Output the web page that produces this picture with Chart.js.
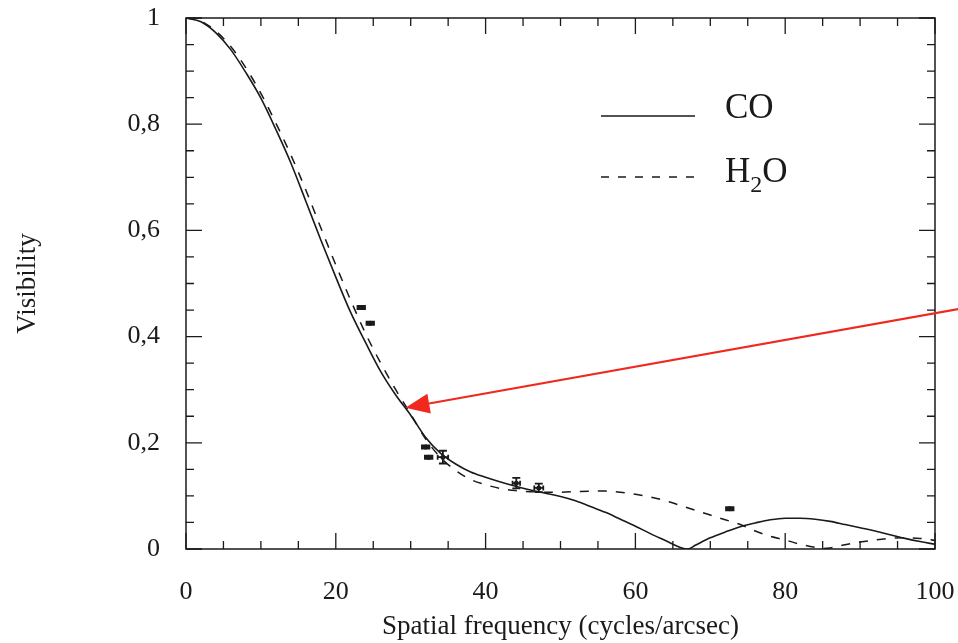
<!DOCTYPE html>
<html>
<head>
<meta charset="utf-8">
<script src="https://cdn.jsdelivr.net/npm/chart.js@4.4.1/dist/chart.umd.min.js"></script>
<style>
  html, body { margin: 0; padding: 0; background: #fff; }
</style>
</head>
<body>
<canvas id="myChart" width="958" height="643"></canvas>
<script>
// Model curves
const freqCO = [0, 2, 4, 6, 8, 10, 12, 14, 16, 18, 20, 22, 24, 26, 28, 30, 32, 34, 36, 38, 40,
    42, 44, 46, 48, 50, 52, 54, 56, 58, 60, 62, 64, 66, 67, 68, 70, 72, 74, 76, 78, 80,
    82, 84, 86, 88, 90, 92, 94, 96, 98, 100];
const visCO = [1.000, 0.993, 0.972, 0.940, 0.897, 0.849, 0.790, 0.727, 0.655, 0.582, 0.512,
    0.445, 0.388, 0.334, 0.290, 0.252, 0.210, 0.180, 0.160, 0.145, 0.135,
    0.126, 0.118, 0.111, 0.105, 0.099, 0.091, 0.080, 0.069, 0.056, 0.043, 0.029, 0.016, 0.003, 0.000,
    0.007, 0.021, 0.032, 0.042, 0.049, 0.055, 0.058, 0.058, 0.056, 0.052, 0.046, 0.040, 0.034,
    0.027, 0.020, 0.014, 0.009];

const freqH2O = [0, 2, 4, 6, 8, 10, 12, 14, 16, 18, 20, 22, 24, 26, 28, 30, 32, 34, 36, 38, 40,
    42, 44, 46, 48, 50, 52, 54, 56, 58, 60, 62, 64, 66, 68, 70, 72, 74, 76, 78, 80,
    82, 84, 85, 86, 88, 90, 92, 94, 96, 98, 100];
const visH2O = [1.000, 0.994, 0.975, 0.946, 0.906, 0.858, 0.802, 0.742, 0.676, 0.605, 0.535,
    0.468, 0.405, 0.350, 0.300, 0.254, 0.207, 0.172, 0.148, 0.131, 0.121,
    0.114, 0.110, 0.108, 0.107, 0.107, 0.108, 0.109, 0.109, 0.107, 0.103, 0.098, 0.091, 0.082,
    0.073, 0.064, 0.055, 0.046, 0.034, 0.024, 0.017, 0.009, 0.003, 0.001, 0.002, 0.008, 0.013,
    0.017, 0.020, 0.021, 0.020, 0.016];

// Measured visibilities with error bars
const obsFreq = [23.4, 24.6, 32.0, 32.4, 34.3, 44.1, 47.1, 72.6];
const obsVis = [0.455, 0.425, 0.192, 0.173, 0.173, 0.124, 0.115, 0.076];
const obsFreqErr = [0.5, 0.5, 0.5, 0.5, 0.7, 0.5, 0.6, 0.5];
const obsVisErr = [0.003, 0.003, 0.003, 0.003, 0.012, 0.010, 0.008, 0.003];

// Axis labels
const xTickLabels = [0, 20, 40, 60, 80, 100];
const yTickLabels = [0, 0.2, 0.4, 0.6, 0.8, 1];

// Legend entries
const legendNames = ['CO', 'H2O'];

// Red arrow annotation (data units)
const arrowFrom = [103.1, 0.452];
const arrowTo = [29.3, 0.266];

const serif = "'Liberation Serif', 'DejaVu Serif', serif";
const ink = '#1a1a1a';

function isLabelled(list, value) {
    return list.some(t => Math.abs(t - value) < 1e-6);
}

function yLabel(value) {
    if (!isLabelled(yTickLabels, value)) return '';
    if (Math.abs(value) < 1e-6) return '0';
    if (Math.abs(value - 1) < 1e-6) return '1';
    return value.toFixed(1).replace('.', ',');
}

// Box frame with inward ticks on all four sides
const frameTicks = {
    id: 'frameTicks',
    afterDraw(chart) {
        const { ctx, chartArea: a, scales } = chart;
        ctx.save();
        ctx.strokeStyle = ink;
        ctx.lineWidth = 1.5;
        ctx.strokeRect(a.left, a.top, a.right - a.left, a.bottom - a.top);
        ctx.lineWidth = 1.3;
        ctx.beginPath();
        scales.x.ticks.forEach(t => {
            const px = scales.x.getPixelForValue(t.value);
            const len = isLabelled(xTickLabels, t.value) ? 16 : 8;
            ctx.moveTo(px, a.bottom); ctx.lineTo(px, a.bottom - len);
            ctx.moveTo(px, a.top); ctx.lineTo(px, a.top + len);
        });
        scales.y.ticks.forEach(t => {
            const py = scales.y.getPixelForValue(t.value);
            const len = isLabelled(yTickLabels, t.value) ? 16 : 8;
            ctx.moveTo(a.left, py); ctx.lineTo(a.left + len, py);
            ctx.moveTo(a.right, py); ctx.lineTo(a.right - len, py);
        });
        ctx.stroke();
        ctx.restore();
    }
};

// Error bars for the measured points
const errorBars = {
    id: 'errorBars',
    afterDatasetsDraw(chart) {
        const { ctx, scales } = chart;
        ctx.save();
        ctx.strokeStyle = ink;
        ctx.lineWidth = 1.8;
        ctx.beginPath();
        obsFreq.forEach((f, i) => {
            const x0 = scales.x.getPixelForValue(f - obsFreqErr[i]);
            const x1 = scales.x.getPixelForValue(f + obsFreqErr[i]);
            const y = scales.y.getPixelForValue(obsVis[i]);
            const y0 = scales.y.getPixelForValue(obsVis[i] - obsVisErr[i]);
            const y1 = scales.y.getPixelForValue(obsVis[i] + obsVisErr[i]);
            const x = scales.x.getPixelForValue(f);
            ctx.moveTo(x0, y); ctx.lineTo(x1, y);
            ctx.moveTo(x0, y - 2.5); ctx.lineTo(x0, y + 2.5);
            ctx.moveTo(x1, y - 2.5); ctx.lineTo(x1, y + 2.5);
            ctx.moveTo(x, y0); ctx.lineTo(x, y1);
            ctx.moveTo(x - 4, y0); ctx.lineTo(x + 4, y0);
            ctx.moveTo(x - 4, y1); ctx.lineTo(x + 4, y1);
        });
        ctx.stroke();
        ctx.restore();
    }
};

// Legend drawn inside the plot (needs a subscript for H2O)
const curveLegend = {
    id: 'curveLegend',
    afterDraw(chart) {
        const { ctx } = chart;
        ctx.save();
        ctx.strokeStyle = ink;
        ctx.fillStyle = ink;
        ctx.lineWidth = 1.6;
        // solid
        ctx.beginPath();
        ctx.moveTo(601, 116); ctx.lineTo(695, 116);
        ctx.stroke();
        // dashed
        ctx.setLineDash([8, 9]);
        ctx.beginPath();
        ctx.moveTo(601, 177); ctx.lineTo(695, 177);
        ctx.stroke();
        ctx.setLineDash([]);

        ctx.textBaseline = 'alphabetic';
        ctx.font = '35px ' + serif;
        ctx.fillText(legendNames[0], 725, 118);
        let x = 725;
        ctx.fillText('H', x, 182);
        x += ctx.measureText('H').width;
        ctx.font = '24px ' + serif;
        ctx.fillText('2', x, 192);
        x += ctx.measureText('2').width;
        ctx.font = '35px ' + serif;
        ctx.fillText('O', x, 182);
        ctx.restore();
    }
};

// Red arrow pointing at the curve
const redArrow = {
    id: 'redArrow',
    afterDraw(chart) {
        const { ctx, scales } = chart;
        const x0 = scales.x.getPixelForValue(arrowFrom[0]);
        const y0 = scales.y.getPixelForValue(arrowFrom[1]);
        const x1 = scales.x.getPixelForValue(arrowTo[0]);
        const y1 = scales.y.getPixelForValue(arrowTo[1]);
        const ang = Math.atan2(y1 - y0, x1 - x0);
        const headLen = 24, headHalf = 10;
        const bx = x1 - headLen * Math.cos(ang);
        const by = y1 - headLen * Math.sin(ang);
        ctx.save();
        ctx.strokeStyle = '#f0281e';
        ctx.fillStyle = '#f0281e';
        ctx.lineWidth = 2.2;
        ctx.beginPath();
        ctx.moveTo(x0, y0); ctx.lineTo(bx, by);
        ctx.stroke();
        ctx.beginPath();
        ctx.moveTo(x1, y1);
        ctx.lineTo(bx + headHalf * Math.sin(ang), by - headHalf * Math.cos(ang));
        ctx.lineTo(bx - headHalf * Math.sin(ang), by + headHalf * Math.cos(ang));
        ctx.closePath();
        ctx.fill();
        ctx.restore();
    }
};

const ctx = document.getElementById('myChart').getContext('2d');

new Chart(ctx, {
    type: 'scatter',
    data: {
        datasets: [
            {
                label: legendNames[0],
                data: freqCO.map((f, i) => ({ x: f, y: visCO[i] })),
                showLine: true,
                borderColor: ink,
                borderWidth: 1.6,
                pointRadius: 0,
                cubicInterpolationMode: 'monotone'
            },
            {
                label: legendNames[1],
                data: freqH2O.map((f, i) => ({ x: f, y: visH2O[i] })),
                showLine: true,
                borderColor: ink,
                borderWidth: 1.5,
                borderDash: [9, 9],
                pointRadius: 0,
                cubicInterpolationMode: 'monotone'
            },
            {
                label: 'data',
                data: obsFreq.map((f, i) => ({ x: f, y: obsVis[i] })),
                showLine: false,
                pointRadius: 2.5,
                pointBackgroundColor: ink,
                pointBorderColor: ink,
                pointBorderWidth: 0
            }
        ]
    },
    options: {
        responsive: false,
        animation: false,
        layout: { padding: { left: 0, right: 23, top: 18, bottom: 0 } },
        plugins: {
            legend: { display: false },
            tooltip: { enabled: false }
        },
        scales: {
            x: {
                type: 'linear',
                min: 0,
                max: 100,
                grid: { display: false, drawTicks: false },
                border: { display: false },
                afterFit: scale => {
                    scale.height = 94;
                    scale.paddingLeft = 0;
                    scale.paddingRight = 0;
                },
                ticks: {
                    stepSize: 5,
                    autoSkip: false,
                    maxRotation: 0,
                    padding: 28,
                    color: ink,
                    font: { family: serif, size: 26 },
                    callback: value => isLabelled(xTickLabels, value) ? String(value) : ''
                },
                title: {
                    display: true,
                    text: 'Spatial frequency (cycles/arcsec)',
                    color: ink,
                    font: { family: serif, size: 27 },
                    padding: { top: 0, bottom: 0 }
                }
            },
            y: {
                min: 0,
                max: 1,
                grid: { display: false, drawTicks: false },
                border: { display: false },
                afterFit: scale => {
                    scale.width = 186;
                    scale.paddingTop = 0;
                    scale.paddingBottom = 0;
                },
                ticks: {
                    stepSize: 0.05,
                    autoSkip: false,
                    padding: 26,
                    color: ink,
                    font: { family: serif, size: 26 },
                    callback: value => yLabel(value)
                },
                title: {
                    display: true,
                    text: 'Visibility',
                    color: ink,
                    font: { family: serif, size: 27 },
                    padding: { top: 12, bottom: 0 }
                }
            }
        }
    },
    plugins: [frameTicks, errorBars, curveLegend, redArrow]
});
</script>
</body>
</html>
